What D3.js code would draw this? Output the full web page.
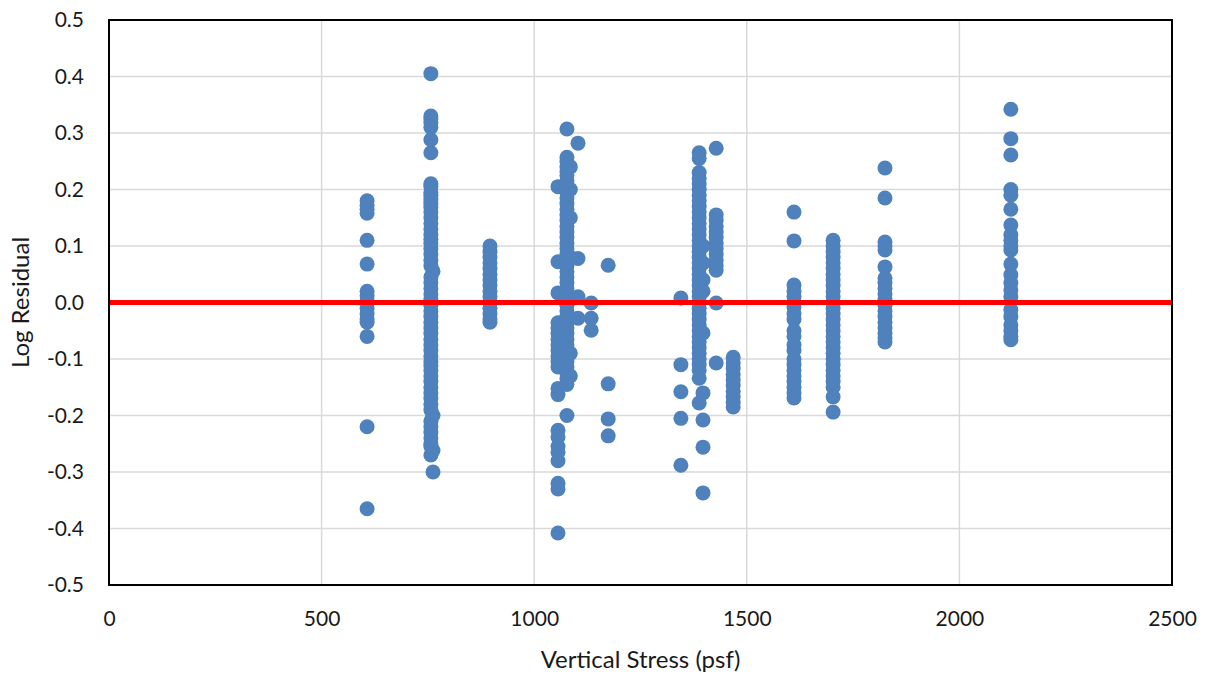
<!DOCTYPE html>
<html><head><meta charset="utf-8">
<script src="https://cdn.jsdelivr.net/npm/d3@7"></script>
<style>body{margin:0;background:#fff}svg{display:block}text{font-family:Lato,"Open Sans",sans-serif;fill:#1a1a1a}</style>
</head><body><svg id="c" width="1212" height="680"></svg>
<script>
// Residuals per vertical stress level (psf)
const xTicks = [0,500,1000,1500,2000,2500];
const yTicks = [-0.5,-0.4,-0.3,-0.2,-0.1,0.0,0.1,0.2,0.3,0.4,0.5];
const s607 = [0.18,0.172,0.165,0.158,0.11,0.068,0.02,0.012,0.003,-0.01,-0.02,-0.03,-0.035,-0.06,-0.22,-0.365];
const s757 = [0.405,0.33,0.325,0.318,0.31,0.288,0.265,0.21,0.205,0.195,0.19,0.182,0.175,0.168,0.16,0.15,0.14,0.13,0.12,0.112,0.105,0.095,0.085,0.075,0.065,0.045,0.035,0.025,0.015,0.005,-0.005,-0.015,-0.025,-0.035,-0.045,-0.055,-0.065,-0.075,-0.085,-0.095,-0.105,-0.112,-0.12,-0.13,-0.14,-0.15,-0.16,-0.17,-0.18,-0.19,-0.21,-0.22,-0.23,-0.24,-0.25,-0.255,-0.27];
const s762 = [0.055,-0.2,-0.262,-0.3];
const s896 = [0.1,0.09,0.08,0.07,0.06,0.05,0.04,0.03,0.02,0.01,0.0,-0.01,-0.02,-0.03,-0.035];
const s1056 = [0.205,0.072,0.017,-0.036,-0.045,-0.055,-0.065,-0.075,-0.085,-0.095,-0.105,-0.114,-0.152,-0.163,-0.226,-0.238,-0.255,-0.265,-0.28,-0.32,-0.33,-0.408];
const s1077 = [0.307,0.257,0.25,0.24,0.232,0.225,0.215,0.205,0.195,0.185,0.175,0.165,0.155,0.145,0.135,0.125,0.115,0.105,0.095,0.085,0.075,0.065,0.055,0.045,0.035,0.025,0.015,0.005,-0.005,-0.015,-0.025,-0.035,-0.045,-0.055,-0.065,-0.075,-0.085,-0.095,-0.105,-0.115,-0.125,-0.135,-0.145,-0.2];
const s1085 = [0.24,0.2,0.15,0.08,-0.09,-0.13];
const s1103 = [0.282,0.078,0.01,-0.028];
const s1134 = [-0.001,-0.028,-0.049];
const s1174 = [0.066,-0.144,-0.206,-0.236];
const s1345 = [0.008,-0.11,-0.158,-0.205,-0.288];
const s1388 = [0.265,0.255,0.23,0.22,0.21,0.2,0.19,0.18,0.17,0.16,0.15,0.14,0.13,0.12,0.11,0.1,0.09,0.08,0.07,0.06,0.05,0.04,0.03,0.02,0.01,0.0,-0.01,-0.02,-0.03,-0.04,-0.05,-0.06,-0.07,-0.08,-0.09,-0.1,-0.11,-0.12,-0.134,-0.178];
const s1397 = [0.1,0.07,0.04,0.02,-0.054,-0.16,-0.208,-0.256,-0.337];
const s1428 = [0.273,0.155,0.145,0.135,0.125,0.115,0.105,0.095,0.085,0.075,0.065,0.057,-0.001,-0.107];
const s1468 = [-0.097,-0.107,-0.117,-0.127,-0.137,-0.147,-0.157,-0.167,-0.177,-0.185];
const s1611 = [0.16,0.109,0.031,0.02,0.01,-0.008,-0.02,-0.03,-0.05,-0.06,-0.075,-0.085,-0.1,-0.11,-0.12,-0.13,-0.14,-0.15,-0.16,-0.169];
const s1703 = [0.11,0.1,0.09,0.08,0.07,0.06,0.05,0.04,0.03,0.02,0.01,0.0,-0.01,-0.02,-0.03,-0.04,-0.05,-0.06,-0.07,-0.08,-0.09,-0.1,-0.11,-0.12,-0.13,-0.14,-0.15,-0.167,-0.194];
const s1825 = [0.238,0.185,0.107,0.1,0.093,0.063,0.043,0.035,0.025,0.015,0.005,-0.005,-0.015,-0.025,-0.035,-0.045,-0.055,-0.063,-0.07];
const s2121 = [0.342,0.29,0.261,0.2,0.19,0.165,0.137,0.12,0.11,0.1,0.093,0.068,0.049,0.035,0.022,0.01,-0.013,-0.025,-0.04,-0.05,-0.06,-0.066];
const levels = [[607,s607],[757,s757],[762,s762],[896,s896],[1056,s1056],[1077,s1077],[1085,s1085],[1103,s1103],[1134,s1134],[1174,s1174],[1345,s1345],[1388,s1388],[1397,s1397],[1428,s1428],[1468,s1468],[1611,s1611],[1703,s1703],[1825,s1825],[2121,s2121]];
const points = levels.flatMap(([x,arr]) => arr.map(y => ({x,y})));

const svg = d3.select("#c");
const L=109,R=1172,T=20,B=585;
const x = d3.scaleLinear().domain([0,2500]).range([L,R]);
const y = d3.scaleLinear().domain([-0.5,0.5]).range([B,T]);

// gridlines
svg.append("g").selectAll("line").data(yTicks).join("line")
  .attr("x1",L).attr("x2",R).attr("y1",d=>y(d)).attr("y2",d=>y(d))
  .attr("stroke","#d9d9d9").attr("stroke-width",1.5);
svg.append("g").selectAll("line").data(xTicks).join("line")
  .attr("y1",T).attr("y2",B).attr("x1",d=>x(d)).attr("x2",d=>x(d))
  .attr("stroke","#d9d9d9").attr("stroke-width",1.5);

// points
svg.append("g").selectAll("circle").data(points).join("circle")
  .attr("cx",d=>x(d.x)).attr("cy",d=>y(d.y)).attr("r",7.5).attr("fill","#4f81bd");

// zero line
svg.append("line").attr("x1",L).attr("x2",R).attr("y1",y(0)).attr("y2",y(0))
  .attr("stroke","#ff0000").attr("stroke-width",5);

// frame
svg.append("rect").attr("x",L).attr("y",T).attr("width",R-L).attr("height",B-T)
  .attr("fill","none").attr("stroke","#000").attr("stroke-width",2);

// axes labels
const fy = d => d.toFixed(1).replace("\u2212","-");
const xa = svg.append("g").attr("transform",`translate(0,${B})`)
  .call(d3.axisBottom(x).tickValues(xTicks).tickSize(0).tickPadding(26).tickFormat(d => String(d)));
xa.select(".domain").remove();
xa.selectAll("text").attr("font-size",21).style("font-family","Lato, 'Open Sans', sans-serif").attr("fill","#1a1a1a");
const ya = svg.append("g").attr("transform",`translate(${L},0)`)
  .call(d3.axisLeft(y).tickValues(yTicks).tickSize(0).tickPadding(25).tickFormat(fy));
ya.select(".domain").remove();
ya.selectAll("text").attr("font-size",21).style("font-family","Lato, 'Open Sans', sans-serif").attr("fill","#1a1a1a");

svg.append("text").attr("x",(L+R)/2).attr("y",668).attr("text-anchor","middle")
  .attr("font-size",24).text("Vertical Stress (psf)");
svg.append("text").attr("transform",`translate(29,${(T+B)/2}) rotate(-90)`).attr("text-anchor","middle")
  .attr("font-size",24).text("Log Residual");
</script></body></html>
